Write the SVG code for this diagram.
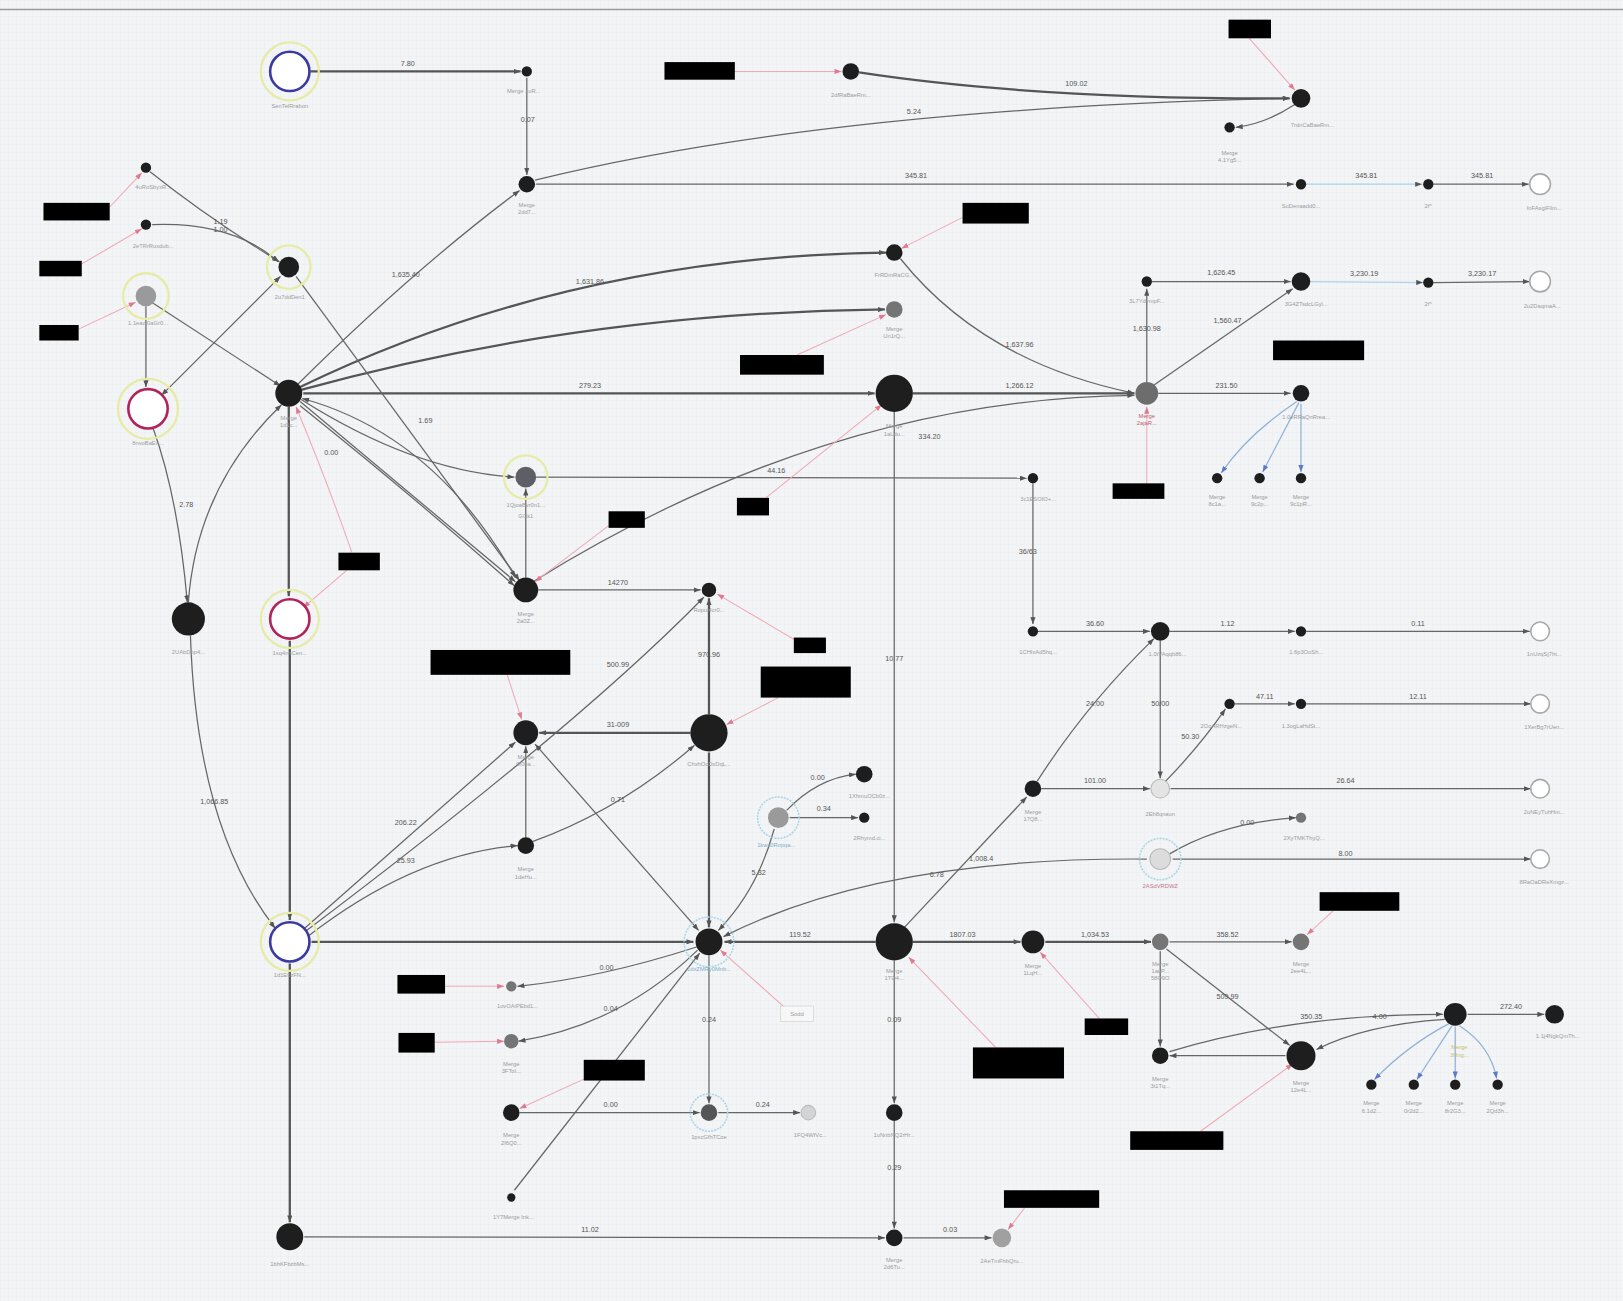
<svg xmlns="http://www.w3.org/2000/svg" width="1623" height="1301" viewBox="0 0 1623 1301">
<defs>
<pattern id="grid" width="8" height="8" patternUnits="userSpaceOnUse"><path d="M8 0H0V8" fill="none" stroke="#e4e6ea" stroke-width="0.6"/></pattern>
<marker id="a" viewBox="0 0 8 6" refX="8" refY="3" markerWidth="7" markerHeight="5" markerUnits="userSpaceOnUse" orient="auto-start-reverse"><path d="M0,0L8,3L0,6z" fill="#555"/></marker>
<marker id="p" viewBox="0 0 8 6" refX="8" refY="3" markerWidth="7" markerHeight="5" markerUnits="userSpaceOnUse" orient="auto"><path d="M0,0L8,3L0,6z" fill="#e07a90"/></marker>
<marker id="b" viewBox="0 0 8 6" refX="8" refY="3" markerWidth="7" markerHeight="5" markerUnits="userSpaceOnUse" orient="auto"><path d="M0,0L8,3L0,6z" fill="#5a7ac8"/></marker>
</defs>
<style>
.e{fill:none;stroke:#666;stroke-width:1.2;marker-end:url(#a)}
.t{stroke-width:2.2;stroke:#555}
.bl{fill:none;stroke:#8fb2d8;stroke-width:1.2;marker-end:url(#b)}
.pk{fill:none;stroke:#f0a8b4;stroke-width:1;marker-end:url(#p)}
.el{font-family:"Liberation Sans",Arial,sans-serif;font-size:7px;fill:#555;text-anchor:middle}
.nl{font-family:"Liberation Sans",Arial,sans-serif;font-size:5.6px;fill:#9a9ca0;text-anchor:middle}
.dk{fill:#1e1e1e}
.gr{fill:#757575}
.lg{fill:#d4d4d4;stroke:#bbb;stroke-width:1}
.ho{fill:#fff;stroke:#a8a8a8;stroke-width:1.5}
.yh{fill:none;stroke:#e6eba6;stroke-width:2.2}
.ch{fill:none;stroke:#a9d7e6;stroke-width:1.5;stroke-dasharray:2 1}
.rd{fill:#000}
</style>
<rect width="1623" height="1301" fill="#f3f4f6"/>
<rect width="1623" height="1301" fill="url(#grid)"/>
<line x1="0" y1="9.5" x2="1623" y2="9.5" stroke="#9a9a9a" stroke-width="1.5"/>
<g transform="scale(1.035)">
<g id="connectors">
<path class="e t" d="M300,69L503,69"/><text class="el" x="394" y="64">7.80</text>
<path class="e" d="M509,75L509,169"/><text class="el" x="510" y="118">0.07</text>
<path class="e" d="M517,174Q800,105 1246,95"/><text class="el" x="883" y="110">5.24</text>
<path class="e t" d="M830,70Q1000,96 1246,95"/><text class="el" x="1040" y="83">109.02</text>
<path class="e" d="M1251,101Q1222,120 1194,123"/>
<path class="e" d="M518,178L1250,178"/><text class="el" x="885" y="172">345.81</text>
<path class="e" style="stroke:#a9d4e4" d="M1262,178L1374,178"/><text class="el" x="1320" y="172">345.81</text>
<path class="e" d="M1385,178L1477,178"/><text class="el" x="1432" y="172">345.81</text>
<path class="e" d="M287,372Q400,260 502,184"/><text class="el" x="392" y="268">1,635.40</text>
<path class="e t" d="M290,374Q550,248 856,244"/><text class="el" x="570" y="274">1,631.86</text>
<path class="e t" d="M290,377Q560,302 855,299"/>
<path class="e t" d="M293,380L845,380"/><text class="el" x="570" y="375">279.23</text>
<path class="e" d="M870,250Q950,350 1096,380"/><text class="el" x="985" y="335">1,637.96</text>
<path class="e t" d="M882,380L1096,380"/><text class="el" x="985" y="375">1,266.12</text>
<path class="e" d="M515,562Q800,385 1096,382"/><text class="el" x="898" y="424">334.20</text>
<path class="e" d="M1108,369L1108,279"/><text class="el" x="1108" y="320">1,630.98</text>
<path class="e" d="M1113,272L1247,272"/><text class="el" x="1180" y="266">1,626.45</text>
<path class="e" d="M1115,372L1249,279"/><text class="el" x="1186" y="312">1,560.47</text>
<path class="e" style="stroke:#a9d4e4" d="M1266,272L1375,273"/><text class="el" x="1318" y="267">3,230.19</text>
<path class="e" d="M1385,273L1478,272"/><text class="el" x="1432" y="267">3,230.17</text>
<path class="e" d="M1119,380L1247,380"/><text class="el" x="1185" y="375">231.50</text>
<path class="bl" d="M1253,388Q1205,420 1180,457"/>
<path class="bl" d="M1255,389L1220,456"/>
<path class="bl" d="M1257,390L1257,456"/>
<path class="e" d="M145,166Q200,210 270,253"/><text class="el" x="213" y="216">1.19</text>
<path class="e" d="M147,217Q225,214 269,253"/><text class="el" x="213" y="224">1.00</text>
<path class="e" d="M141,296L141,374"/>
<path class="e" style="marker-start:url(#a)" d="M156,382L271,267"/>
<path class="e" d="M148,293L271,373"/>
<path class="e" d="M286,267L502,561"/><text class="el" x="411" y="409">1.69</text>
<path class="e" d="M148,414Q172,480 181,582"/><text class="el" x="180" y="490">2.78</text>
<path class="e" d="M182,582Q190,470 272,391"/>
<path class="e" d="M184,614Q190,800 266,897"/><text class="el" x="207" y="777">1,066.85</text>
<path class="e t" d="M279,393L279,576"/>
<path class="e t" d="M280,619L280,889"/>
<path class="e t" d="M280,931L280,1181"/>
<path class="e" d="M291,386Q400,455 497,461"/>
<path class="e" d="M290,388L498,562"/>
<path class="e" d="M290,392Q400,480 497,566"/>
<path class="e" style="marker-start:url(#a)" d="M292,385Q420,420 498,558"/><text class="el" x="320" y="440">0.00</text>
<path class="e" d="M518,461L992,462"/><text class="el" x="750" y="457">44.16</text>
<path class="e" d="M508,558L508,472"/>
<path class="e" d="M520,570L677,570"/><text class="el" x="597" y="565">14270</text>
<path class="e" d="M998,467L998,603"/><text class="el" x="993" y="535">36/63</text>
<path class="e" d="M1003,610L1111,610"/><text class="el" x="1058" y="605">36.60</text>
<path class="e" d="M1130,610L1251,610"/><text class="el" x="1186" y="605">1.12</text>
<path class="e" d="M1262,610L1478,610"/><text class="el" x="1370" y="605">0.11</text>
<path class="e t" d="M667,708L521,708"/><text class="el" x="597" y="702">31-009</text>
<path class="e t" d="M685,690L685,578"/><text class="el" x="685" y="635">970.96</text>
<path class="e" d="M295,900Q560,700 680,577"/><text class="el" x="597" y="644">500.99</text>
<path class="e" d="M508,810L508,721"/>
<path class="e" d="M293,898L498,717"/><text class="el" x="392" y="797">206.22</text>
<path class="e" d="M297,905Q400,825 500,817"/><text class="el" x="392" y="834">25.93</text>
<path class="e" d="M515,813Q600,782 671,720"/><text class="el" x="597" y="775">0.71</text>
<path class="e" style="marker-start:url(#a)" d="M517,719L675,899"/>
<path class="e t" d="M685,727L685,896"/>
<path class="e t" d="M301,910L670,910"/>
<path class="e t" d="M846,910L700,910"/><text class="el" x="773" y="905">119.52</text>
<path class="e" d="M864,398L864,891"/><text class="el" x="864" y="639">10.77</text>
<path class="e t" d="M882,910L986,910"/><text class="el" x="930" y="905">1807.03</text>
<path class="e t" d="M1010,910L1112,910"/><text class="el" x="1058" y="905">1,034.53</text>
<path class="e" d="M1130,910L1248,910"/><text class="el" x="1186" y="905">358.52</text>
<path class="e" d="M1121,919L1121,1011"/>
<path class="e" d="M1127,917L1246,1010"/><text class="el" x="1186" y="965">509.99</text>
<path class="e" d="M1242,1020L1130,1020"/>
<path class="e" d="M1130,1016Q1250,980 1394,980"/><text class="el" x="1267" y="985">350.35</text><text class="el" x="1333" y="985">4.00</text>
<path class="e" d="M1396,985Q1320,990 1272,1014"/>
<path class="e" d="M1418,980L1492,980"/><text class="el" x="1460" y="975">272.40</text>
<path class="bl" d="M1400,989Q1360,1010 1328,1043"/>
<path class="bl" d="M1403,991L1369,1043"/>
<path class="bl" d="M1406,992L1406,1042"/>
<path class="bl" d="M1410,991Q1440,1010 1446,1042"/>
<path class="e" d="M872,898L992,770"/><text class="el" x="948" y="832">1,008.4</text>
<path class="e" d="M1002,755Q1050,680 1115,617"/><text class="el" x="1058" y="682">24.00</text>
<path class="e" d="M1006,762L1111,762"/><text class="el" x="1058" y="757">101.00</text>
<path class="e" d="M1121,619L1121,752"/><text class="el" x="1121" y="682">50/00</text>
<path class="e" d="M1126,755Q1160,720 1184,685"/><text class="el" x="1150" y="714">50.30</text>
<path class="e" d="M1193,680L1251,680"/><text class="el" x="1222" y="675">47.11</text>
<path class="e" d="M1262,680L1479,680"/><text class="el" x="1370" y="675">12.11</text>
<path class="e" d="M1131,762L1479,762"/><text class="el" x="1300" y="757">26.64</text>
<path class="e" d="M1130,825Q1180,795 1252,790"/><text class="el" x="1205" y="797">0.00</text>
<path class="e" d="M1133,830L1479,830"/><text class="el" x="1300" y="827">8.00</text>
<path class="e" d="M1108,830Q850,828 699,905"/><text class="el" x="905" y="847">6.78</text>
<path class="e" d="M760,783Q790,752 827,748"/><text class="el" x="790" y="754">0.00</text>
<path class="e" d="M763,790L829,790"/><text class="el" x="796" y="784">0.34</text>
<path class="e" d="M748,801Q732,860 694,899"/><text class="el" x="733" y="845">5.32</text>
<path class="e" d="M673,915Q580,945 500,953"/><text class="el" x="586" y="937">0.00</text>
<path class="e" d="M674,918Q600,990 501,1006"/><text class="el" x="590" y="977">0.04</text>
<path class="e" d="M685,923L685,1066"/><text class="el" x="685" y="987">0.24</text>
<path class="e" d="M502,1075L676,1075"/><text class="el" x="590" y="1070">0.00</text>
<path class="e" d="M694,1075L773,1075"/><text class="el" x="737" y="1070">0.24</text>
<path class="e" d="M497,1150L676,921"/>
<path class="e" d="M864,928L864,1066"/><text class="el" x="864" y="987">0.09</text>
<path class="e" d="M864,1083L864,1187"/><text class="el" x="864" y="1130">0.29</text>
<path class="e" d="M294,1195L855,1196"/><text class="el" x="570" y="1190">11.02</text>
<path class="e" d="M873,1196L958,1196"/><text class="el" x="918" y="1190">0.03</text>
<path class="pk" d="M710,69L813,69"/>
<path class="pk" d="M1207,37L1251,87"/>
<path class="pk" d="M106,200L137,167"/>
<path class="pk" d="M79,255L137,221"/>
<path class="pk" d="M76,318L131,292"/>
<path class="pk" d="M930,210L871,240"/>
<path class="pk" d="M770,343L856,304"/>
<path class="pk" d="M1108,467L1108,393"/>
<path class="pk" d="M740,481L852,391"/>
<path class="pk" d="M592,505L517,562"/>
<path class="pk" d="M335,551L293,587"/>
<path class="pk" d="M340,534Q318,470 286,393"/>
<path class="pk" d="M490,652L504,695"/>
<path class="pk" d="M752,674L702,700"/>
<path class="pk" d="M771,620L693,574"/>
<path class="pk" d="M760,975L696,918"/>
<path class="pk" d="M962,1012L878,925"/>
<path class="pk" d="M1062,984L1005,920"/>
<path class="pk" d="M1288,880L1263,903"/>
<path class="pk" d="M1160,1093L1249,1028"/>
<path class="pk" d="M430,953L487,953"/>
<path class="pk" d="M420,1007L487,1006"/>
<path class="pk" d="M570,1040L502,1071"/>
<path class="pk" d="M990,1167L974,1188"/>
</g>
<g id="redactions">
<rect class="rd" x="642" y="60" width="68" height="17"/>
<rect class="rd" x="1187" y="19" width="41" height="18"/>
<rect class="rd" x="42" y="196" width="64" height="17"/>
<rect class="rd" x="38" y="252" width="41" height="15"/>
<rect class="rd" x="38" y="314" width="38" height="15"/>
<rect class="rd" x="930" y="196" width="64" height="20"/>
<rect class="rd" x="715" y="343" width="81" height="19"/>
<rect class="rd" x="1230" y="329" width="88" height="19"/>
<rect class="rd" x="1075" y="467" width="50" height="15"/>
<rect class="rd" x="712" y="481" width="31" height="17"/>
<rect class="rd" x="588" y="494" width="35" height="16"/>
<rect class="rd" x="327" y="534" width="40" height="17"/>
<rect class="rd" x="416" y="628" width="135" height="24"/>
<rect class="rd" x="767" y="616" width="31" height="15"/>
<rect class="rd" x="735" y="644" width="87" height="30"/>
<rect class="rd" x="1275" y="862" width="77" height="18"/>
<rect class="rd" x="384" y="942" width="46" height="18"/>
<rect class="rd" x="385" y="998" width="35" height="19"/>
<rect class="rd" x="564" y="1024" width="59" height="20"/>
<rect class="rd" x="940" y="1012" width="88" height="30"/>
<rect class="rd" x="1048" y="984" width="42" height="16"/>
<rect class="rd" x="1092" y="1093" width="90" height="18"/>
<rect class="rd" x="970" y="1150" width="92" height="17"/>
<rect x="754" y="972" width="32" height="15" fill="#f7f7f7" stroke="#ccc" stroke-width="0.6"/><text class="nl" x="770" y="982">Sodd</text>
</g>
<g id="n1"><circle class="yh" cx="280" cy="69" r="28"/><circle cx="280" cy="69" r="19" fill="#fff" stroke="#3a3aa0" stroke-width="2.5"/><text class="nl" x="280" y="104">SenTelRrabon</text></g>
<g id="n2"><circle class="dk" cx="509" cy="69" r="5"/><text class="nl" x="506" y="90">Merge 1uR...</text></g>
<g id="n3"><circle class="dk" cx="509" cy="178" r="8"/><text class="nl" x="509" y="200">Merge</text><text class="nl" x="509" y="207">2dd7...</text></g>
<g id="n4"><circle class="dk" cx="822" cy="69" r="8"/><text class="nl" x="822" y="94">2dfRaBaeRm...</text></g>
<g id="n5"><circle class="dk" cx="1257" cy="95" r="9"/><text class="nl" x="1268" y="123">7rdnCaBaeRm...</text></g>
<g id="n6"><circle class="dk" cx="1188" cy="123" r="5"/><text class="nl" x="1188" y="150">Merge</text><text class="nl" x="1188" y="157">4.1Yg5...</text></g>
<g id="n7"><circle class="dk" cx="1257" cy="178" r="5"/><text class="nl" x="1257" y="201">SuDenaadd0...</text></g>
<g id="n8"><circle class="dk" cx="1380" cy="178" r="5"/><text class="nl" x="1380" y="201">2f^</text></g>
<g id="n9"><circle class="ho" cx="1488" cy="178" r="10"/><text class="nl" x="1492" y="203">InFAsgiFilm...</text></g>
<g id="n10"><circle class="dk" cx="141" cy="162" r="5"/><text class="nl" x="148" y="183">4uRoSbyxR...</text></g>
<g id="n11"><circle class="dk" cx="141" cy="217" r="5"/><text class="nl" x="148" y="240">2eTRrRuxdub...</text></g>
<g id="n12"><circle class="yh" cx="141" cy="286" r="22"/><circle class="gr" style="fill:#9a9a9a" cx="141" cy="286" r="10"/><text class="nl" x="143" y="314">1.1eaoj0aGr0...</text></g>
<g id="n13"><circle class="yh" cx="279" cy="258" r="21"/><circle class="dk" cx="279" cy="258" r="10"/><text class="nl" x="280" y="289">2u7ddDen1</text></g>
<g id="n14"><circle class="yh" cx="143" cy="395" r="29"/><circle cx="143" cy="395" r="19" fill="#fff" stroke="#b0245a" stroke-width="2.5"/><text class="nl" x="143" y="430">8nvoBaEn...</text></g>
<g id="n15"><circle class="dk" cx="279" cy="380" r="13"/><text class="nl" x="279" y="406">Merge</text><text class="nl" x="279" y="413">1d1c...</text></g>
<g id="n16"><circle class="dk" cx="864" cy="244" r="8"/><text class="nl" x="864" y="268">FrRDmRaCG...</text></g>
<g id="n17"><circle class="gr" cx="864" cy="299" r="8"/><text class="nl" x="864" y="320">Merge</text><text class="nl" x="864" y="327">Un1rQ...</text></g>
<g id="n18"><circle class="dk" cx="864" cy="380" r="18"/><text class="nl" x="864" y="414">Merge</text><text class="nl" x="864" y="421">1aLdu...</text></g>
<g id="n19"><circle class="gr" style="fill:#6d6d6d" cx="1108" cy="380" r="11"/><text class="nl" style="fill:#c06070" x="1108" y="404">Merge</text><text class="nl" style="fill:#c06070" x="1108" y="411">2ajaR...</text></g>
<g id="n20"><circle class="dk" cx="1108" cy="272" r="5"/><text class="nl" x="1108" y="293">3L7YdvmpF...</text></g>
<g id="n21"><circle class="dk" cx="1257" cy="272" r="9"/><text class="nl" x="1262" y="296">3G4ZTsdcLGyl...</text></g>
<g id="n22"><circle class="dk" cx="1380" cy="273" r="5"/><text class="nl" x="1380" y="296">2f^</text></g>
<g id="n23"><circle class="ho" cx="1488" cy="272" r="10"/><text class="nl" x="1490" y="298">2u2DaqmaA...</text></g>
<g id="n24"><circle class="dk" cx="1257" cy="380" r="8"/><text class="nl" x="1262" y="405">1.0eRRaQnRrea...</text></g>
<g id="n25"><circle class="dk" cx="1176" cy="462" r="5"/><text class="nl" x="1176" y="482">Merge</text><text class="nl" x="1176" y="489">8c1a...</text></g>
<g id="n26"><circle class="dk" cx="1217" cy="462" r="5"/><text class="nl" x="1217" y="482">Merge</text><text class="nl" x="1217" y="489">9c2p...</text></g>
<g id="n27"><circle class="dk" cx="1257" cy="462" r="5"/><text class="nl" x="1257" y="482">Merge</text><text class="nl" x="1257" y="489">9c1pR...</text></g>
<g id="n28"><circle class="yh" cx="508" cy="461" r="21"/><circle class="gr" style="fill:#5e5e66" cx="508" cy="461" r="10"/><text class="nl" x="508" y="490">1QjoaBvr0n1...</text><text class="nl" x="508" y="500">GGk1</text></g>
<g id="n29"><circle class="dk" cx="998" cy="462" r="5"/><text class="nl" x="1003" y="484">3c1ESOIO+...</text></g>
<g id="n30"><circle class="dk" cx="508" cy="570" r="12"/><text class="nl" x="508" y="595">Merge</text><text class="nl" x="508" y="602">2a0Z...</text></g>
<g id="n31"><circle class="dk" cx="685" cy="570" r="7"/><text class="nl" x="685" y="591">Ropul4cr0...</text></g>
<g id="n32"><circle class="dk" cx="998" cy="610" r="5"/><text class="nl" x="1003" y="632">1CHIxAd5hq...</text></g>
<g id="n33"><circle class="dk" cx="1121" cy="610" r="9"/><text class="nl" x="1128" y="634">1.0tVAqqb86...</text></g>
<g id="n34"><circle class="dk" cx="1257" cy="610" r="5"/><text class="nl" x="1262" y="632">1.6p3OoSh...</text></g>
<g id="n35"><circle class="ho" cx="1488" cy="610" r="9"/><text class="nl" x="1492" y="634">1nUzqSj7ht...</text></g>
<g id="n36"><circle class="yh" cx="280" cy="598" r="28"/><circle cx="280" cy="598" r="19" fill="#fff" stroke="#b0245a" stroke-width="2.5"/><text class="nl" x="280" y="633">1sq4nnCen...</text></g>
<g id="n37"><circle class="dk" cx="182" cy="598" r="16"/><text class="nl" x="182" y="632">2UAbDbp4...</text></g>
<g id="n38"><circle class="dk" cx="508" cy="708" r="12"/><text class="nl" x="508" y="733">Merge</text><text class="nl" x="508" y="740">0f0ba...</text></g>
<g id="n39"><circle class="dk" cx="685" cy="708" r="18"/><text class="nl" x="685" y="740">ChxhOcDxDqL...</text></g>
<g id="n40"><circle class="dk" cx="508" cy="817" r="8"/><text class="nl" x="508" y="842">Merge</text><text class="nl" x="508" y="849">1deHu...</text></g>
<g id="n41"><circle class="yh" cx="280" cy="910" r="28"/><circle cx="280" cy="910" r="19" fill="#fff" stroke="#3a3aa0" stroke-width="2.5"/><text class="nl" x="280" y="944">1d1E0zFN...</text></g>
<g id="n42"><circle class="ch" cx="685" cy="910" r="24"/><circle class="dk" cx="685" cy="910" r="13"/><text class="nl" style="fill:#7fb0c8" x="685" y="938">1dxZMRy0Mnb...</text></g>
<g id="n43"><circle class="dk" cx="864" cy="910" r="18"/><text class="nl" x="864" y="940">Merge</text><text class="nl" x="864" y="947">1TQ4...</text></g>
<g id="n44"><circle class="dk" cx="998" cy="910" r="11"/><text class="nl" x="998" y="935">Merge</text><text class="nl" x="998" y="942">1LqH...</text></g>
<g id="n45"><circle class="gr" cx="1121" cy="910" r="8"/><text class="nl" x="1121" y="933">Merge</text><text class="nl" x="1121" y="940">1aqP...</text><text class="nl" x="1121" y="947">58O9O</text></g>
<g id="n46"><circle class="gr" cx="1257" cy="910" r="8"/><text class="nl" x="1257" y="933">Merge</text><text class="nl" x="1257" y="940">2ee4L...</text></g>
<g id="n47"><circle class="dk" cx="1121" cy="1020" r="8"/><text class="nl" x="1121" y="1044">Merge</text><text class="nl" x="1121" y="1051">3t1Tq...</text></g>
<g id="n48"><circle class="dk" cx="1257" cy="1020" r="14"/><text class="nl" x="1257" y="1048">Merge</text><text class="nl" x="1257" y="1055">12e4L...</text></g>
<g id="n49"><circle class="dk" cx="1406" cy="980" r="11"/><text class="nl" style="fill:#c8c070" x="1410" y="1014">Merge</text><text class="nl" style="fill:#c8c070" x="1410" y="1021">3Hng...</text></g>
<g id="n50"><circle class="dk" cx="1502" cy="980" r="9"/><text class="nl" x="1505" y="1003">1.1j4NgkQmTh...</text></g>
<g id="n51"><circle class="dk" cx="1325" cy="1048" r="5"/><text class="nl" x="1325" y="1068">Merge</text><text class="nl" x="1325" y="1075">6.1d2...</text></g>
<g id="n52"><circle class="dk" cx="1366" cy="1048" r="5"/><text class="nl" x="1366" y="1068">Merge</text><text class="nl" x="1366" y="1075">0r2d2...</text></g>
<g id="n53"><circle class="dk" cx="1406" cy="1048" r="5"/><text class="nl" x="1406" y="1068">Merge</text><text class="nl" x="1406" y="1075">8r2G3...</text></g>
<g id="n54"><circle class="dk" cx="1447" cy="1048" r="5"/><text class="nl" x="1447" y="1068">Merge</text><text class="nl" x="1447" y="1075">2Qd3h...</text></g>
<g id="n55"><circle class="dk" cx="998" cy="762" r="8"/><text class="nl" x="998" y="786">Merge</text><text class="nl" x="998" y="793">17Q8...</text></g>
<g id="n56"><circle class="lg" style="fill:#e4e4e4" cx="1121" cy="762" r="9"/><text class="nl" x="1121" y="788">2Eh8qnaun</text></g>
<g id="n57"><circle class="dk" cx="1188" cy="680" r="5"/><text class="nl" x="1180" y="703">2OoARHzgeN...</text></g>
<g id="n58"><circle class="dk" cx="1257" cy="680" r="5"/><text class="nl" x="1257" y="703">1.3ogLaHdSt...</text></g>
<g id="n59"><circle class="ho" cx="1488" cy="680" r="9"/><text class="nl" x="1492" y="704">1XerBg7rUen...</text></g>
<g id="n60"><circle class="ho" cx="1488" cy="762" r="9"/><text class="nl" x="1492" y="786">2uNEyTuhHm...</text></g>
<g id="n61"><circle class="ch" cx="1121" cy="830" r="20"/><circle class="lg" style="fill:#dcdcdc" cx="1121" cy="830" r="10"/><text class="nl" style="fill:#c07888" x="1121" y="858">2ASdVRDWZ</text></g>
<g id="n62"><circle class="gr" cx="1257" cy="790" r="5"/><text class="nl" x="1260" y="812">2XyTMKThyQ...</text></g>
<g id="n63"><circle class="ho" cx="1488" cy="830" r="9"/><text class="nl" x="1492" y="854">8RaOaDReXmgz...</text></g>
<g id="n64"><circle class="ch" cx="752" cy="790" r="20"/><circle class="gr" style="fill:#9a9a9a" cx="752" cy="790" r="10"/><text class="nl" style="fill:#7fb0c8" x="750" y="818">1kwc0Ropqa...</text></g>
<g id="n65"><circle class="dk" cx="835" cy="748" r="8"/><text class="nl" x="840" y="771">1XhmuOCb0z...</text></g>
<g id="n66"><circle class="dk" cx="835" cy="790" r="5"/><text class="nl" x="840" y="812">2Rhymd.ci...</text></g>
<g id="n67"><circle class="gr" cx="494" cy="953" r="5"/><text class="nl" x="500" y="974">1ovOAiPEbd1...</text></g>
<g id="n68"><circle class="gr" cx="494" cy="1006" r="7"/><text class="nl" x="494" y="1030">Merge</text><text class="nl" x="494" y="1037">3FToI...</text></g>
<g id="n69"><circle class="dk" cx="494" cy="1075" r="8"/><text class="nl" x="494" y="1099">Merge</text><text class="nl" x="494" y="1106">2I6Q0...</text></g>
<g id="n70"><circle class="ch" cx="685" cy="1075" r="18"/><circle class="gr" style="fill:#555" cx="685" cy="1075" r="8"/><text class="nl" x="685" y="1100">1pxcGfhTCoe</text></g>
<g id="n71"><circle class="lg" cx="781" cy="1075" r="7"/><text class="nl" x="783" y="1099">1FQ4WfVc...</text></g>
<g id="n72"><circle class="dk" cx="494" cy="1157" r="4"/><text class="nl" x="496" y="1178">1Y7Merge Ink...</text></g>
<g id="n73"><circle class="dk" cx="864" cy="1075" r="8"/><text class="nl" x="864" y="1099">1uNnbNQ2rHr...</text></g>
<g id="n74"><circle class="dk" cx="280" cy="1195" r="13"/><text class="nl" x="280" y="1223">1bhKFbzbMs...</text></g>
<g id="n75"><circle class="dk" cx="864" cy="1196" r="8"/><text class="nl" x="864" y="1219">Merge</text><text class="nl" x="864" y="1226">2d6Tu...</text></g>
<g id="n76"><circle class="gr" style="fill:#a0a0a0" cx="968" cy="1196" r="9"/><text class="nl" x="968" y="1220">2AeTmFhbQru...</text></g>
</g>
</svg>
